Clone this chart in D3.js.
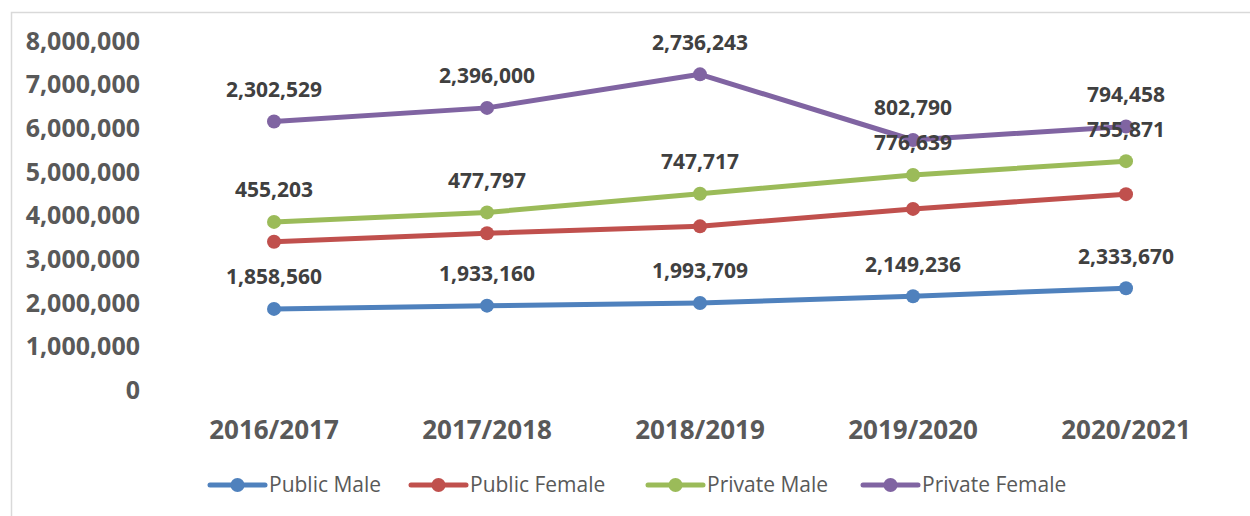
<!DOCTYPE html>
<html>
<head>
<meta charset="utf-8">
<script src="https://cdn.jsdelivr.net/npm/d3@7"></script>
<style>
  body { margin: 0; background: #fff; }
  svg { font-family: "Open Sans", sans-serif; }
</style>
</head>
<body>
<div id="chart"></div>
<script>
// Data (stacked line chart, labels show each series' own value)
const years = ["2016/2017", "2017/2018", "2018/2019", "2019/2020", "2020/2021"];
const publicMale = [1858560, 1933160, 1993709, 2149236, 2333670];
const publicFemale = [1540000, 1660000, 1758000, 2002000, 2156000];
const privateMale = [455203, 477797, 747717, 776639, 755871];
const privateFemale = [2302529, 2396000, 2736243, 802790, 794458];
const yTicks = [0, 1000000, 2000000, 3000000, 4000000, 5000000, 6000000, 7000000, 8000000];

const series = [
    { name: "Public Male", values: publicMale, color: "#4F81BD", labels: true },
    { name: "Public Female", values: publicFemale, color: "#C0504D", labels: false },
    { name: "Private Male", values: privateMale, color: "#9BBB59", labels: true },
    { name: "Private Female", values: privateFemale, color: "#8064A2", labels: true }
];

const width = 1250, height = 516;

const svg = d3.select("#chart")
    .append("svg")
    .attr("width", width)
    .attr("height", height);

// chart border
svg.append("rect")
    .attr("x", 11.5).attr("y", 12.5)
    .attr("width", 1260).attr("height", 520)
    .attr("fill", "none")
    .attr("stroke", "#d9d9d9")
    .attr("stroke-width", 1.5);

const x = d3.scalePoint().domain(years).range([274, 1126]);
const y = d3.scaleLinear().domain([0, 8000000]).range([390, 41]);

// Stack the series
const table = years.map((yr, i) => {
    const row = { year: yr };
    series.forEach(s => row[s.name] = s.values[i]);
    return row;
});
const stacked = d3.stack().keys(series.map(s => s.name))(table);

// Y axis labels
const fmt = d3.format(",");
svg.append("g")
    .selectAll("text")
    .data(yTicks)
    .join("text")
    .attr("x", 140)
    .attr("y", d => y(d))
    .attr("text-anchor", "end")
    .attr("dy", "0.35em")
    .attr("font-size", 25)
    .attr("font-weight", "bold")
    .attr("fill", "#595959")
    .text(d => fmt(d));

// X axis labels
svg.append("g")
    .selectAll("text")
    .data(years)
    .join("text")
    .attr("x", d => x(d))
    .attr("y", 430)
    .attr("text-anchor", "middle")
    .attr("dy", "0.35em")
    .attr("font-size", 26)
    .attr("font-weight", "bold")
    .attr("fill", "#595959")
    .text(d => d);

const line = d3.line()
    .x(d => x(d.data.year))
    .y(d => y(d[1]));

// Lines, markers and labels
stacked.forEach((layer, k) => {
    const s = series[k];
    const g = svg.append("g");
    g.append("path")
        .datum(layer)
        .attr("d", line)
        .attr("fill", "none")
        .attr("stroke", s.color)
        .attr("stroke-width", 5)
        .attr("stroke-linejoin", "round");
    g.selectAll("circle")
        .data(layer)
        .join("circle")
        .attr("cx", d => x(d.data.year))
        .attr("cy", d => y(d[1]))
        .attr("r", 7)
        .attr("fill", s.color);
});

stacked.forEach((layer, k) => {
    const s = series[k];
    if (!s.labels) return;
    svg.append("g")
        .selectAll("text")
        .data(layer)
        .join("text")
        .attr("x", d => x(d.data.year))
        .attr("y", d => y(d[1]) - 32)
        .attr("text-anchor", "middle")
        .attr("dy", "0.35em")
        .attr("font-size", 21)
        .attr("font-weight", "bold")
        .attr("fill", "#404040")
        .text(d => fmt(d.data[s.name]));
});

// Legend
const legendX = [210, 411, 648, 863];
const legend = svg.append("g")
    .selectAll("g")
    .data(series)
    .join("g")
    .attr("transform", (d, i) => `translate(${legendX[i]},485)`);
legend.append("line")
    .attr("x1", 0).attr("x2", 55)
    .attr("stroke", d => d.color)
    .attr("stroke-width", 5)
    .attr("stroke-linecap", "round");
legend.append("circle")
    .attr("cx", 27.5)
    .attr("r", 7)
    .attr("fill", d => d.color);
legend.append("text")
    .attr("x", 59)
    .attr("dy", "0.35em")
    .attr("font-size", 21)
    .attr("fill", "#595959")
    .text(d => d.name);
</script>
</body>
</html>
